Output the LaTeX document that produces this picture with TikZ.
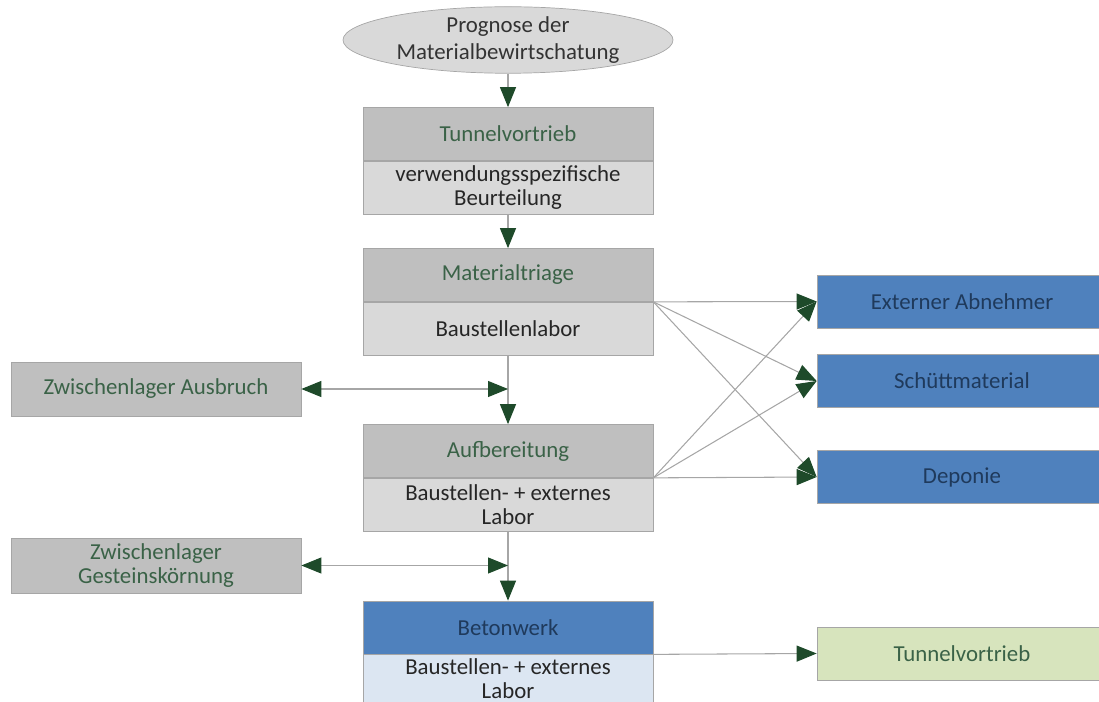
\documentclass[tikz,border=0pt]{standalone}
\usepackage{fontspec}
\setmainfont{Carlito}
\usetikzlibrary{positioning, shapes.geometric, arrows.meta}

\definecolor{darkgray}{HTML}{BFBFBF}
\definecolor{lightgray}{HTML}{D9D9D9}
\definecolor{edgegray}{HTML}{A6A6A6}
\definecolor{officeblue}{HTML}{4F81BD}
\definecolor{paleblue}{HTML}{DCE6F2}
\definecolor{palegreen}{HTML}{D7E4BD}
\definecolor{tipgreen}{HTML}{1E4A2A}
\definecolor{labelgreen}{HTML}{3A6247}
\definecolor{labelblue}{HTML}{1F3A5C}

\begin{document}
\begin{tikzpicture}[
    font=\fontsize{13}{13.5}\selectfont,
    head/.style={draw=edgegray, line width=0.4pt, fill=darkgray, text=labelgreen,
        minimum width=5.8cm, minimum height=1.06cm, inner sep=0pt, align=center},
    sub/.style={head, fill=lightgray, text=black!85},
    bluehead/.style={head, fill=officeblue, text=labelblue},
    outbox/.style={bluehead, minimum width=5.8cm},
    link/.style={draw=edgegray, line width=0.6pt,
        -{Triangle[length=0.4cm, width=0.32cm, color=tipgreen]}},
    both/.style={link, {Triangle[length=0.4cm, width=0.32cm, color=tipgreen]}-{Triangle[length=0.4cm, width=0.32cm, color=tipgreen]}}
  ]
    % Frame of the picture
    \useasboundingbox (0,0) rectangle (21.98,-14.04);
    \clip (0,0) rectangle (21.98,-14.04);

    % Start
    \node[ellipse, draw=edgegray, fill=lightgray, text=black!80, minimum width=6.6cm,
          minimum height=1.3cm, inner sep=0pt, align=center,
          font=\fontsize{13}{15.5}\selectfont] (prog) at (10.16,-0.80)
          {Prognose der\\Materialbewirtschatung};

    % Main chain
    \node[head] (tv) at (10.16,-2.68) {Tunnelvortrieb};
    \node[sub, below=0pt of tv] (tvsub) {verwendungsspezifische\\Beurteilung};

    \node[head] (mt) at (10.16,-5.50) {Materialtriage};
    \node[sub, below=0pt of mt] (mtsub) {Baustellenlabor};

    \node[head] (ab) at (10.16,-9.02) {Aufbereitung};
    \node[sub, below=0pt of ab] (absub) {Baustellen- + externes\\Labor};

    \node[bluehead] (bw) at (10.16,-12.55) {Betonwerk};
    \node[sub, fill=paleblue, minimum height=0.96cm, below=0pt of bw] (bwsub) {Baustellen- + externes\\Labor};

    % Stores on the left
    \node[head, minimum height=1.08cm] (zwa) at (3.12,-7.78) {Zwischenlager Ausbruch};
    \node[head, minimum height=1.1cm] (zwg) at (3.12,-11.31) {Zwischenlager\\Gesteinskörnung};

    % Outlets on the right
    \node[outbox] (ext) at (19.24,-6.03) {Externer Abnehmer};
    \node[outbox] (sch) at (19.24,-7.62) {Schüttmaterial};
    \node[outbox] (dep) at (19.24,-9.54) {Deponie};
    \node[head, fill=palegreen, text=labelgreen] (tvend) at (19.24,-13.07) {Tunnelvortrieb};

    % Vertical flow
    \draw[link] (prog) -- (tv);
    \draw[link] (tvsub) -- (mt);
    \draw[link] (mtsub) -- (ab);
    \draw[link] (absub) -- (bw);

    % Links to the stores
    \coordinate (ja) at (mtsub.south |- zwa.east);
    \coordinate (jg) at (absub.south |- zwg.east);
    \draw[both] (zwa) -- (ja);
    \draw[both] (zwg) -- (jg);

    % Crossing links to the outlets
    \foreach \dest in {ext, sch, dep} {
        \draw[link] (mtsub.north east) -- (\dest.west);
        \draw[link] (absub.north east) -- (\dest.west);
    }
    \draw[link] (bwsub.north east) -- (tvend.west);
\end{tikzpicture}
\end{document}
